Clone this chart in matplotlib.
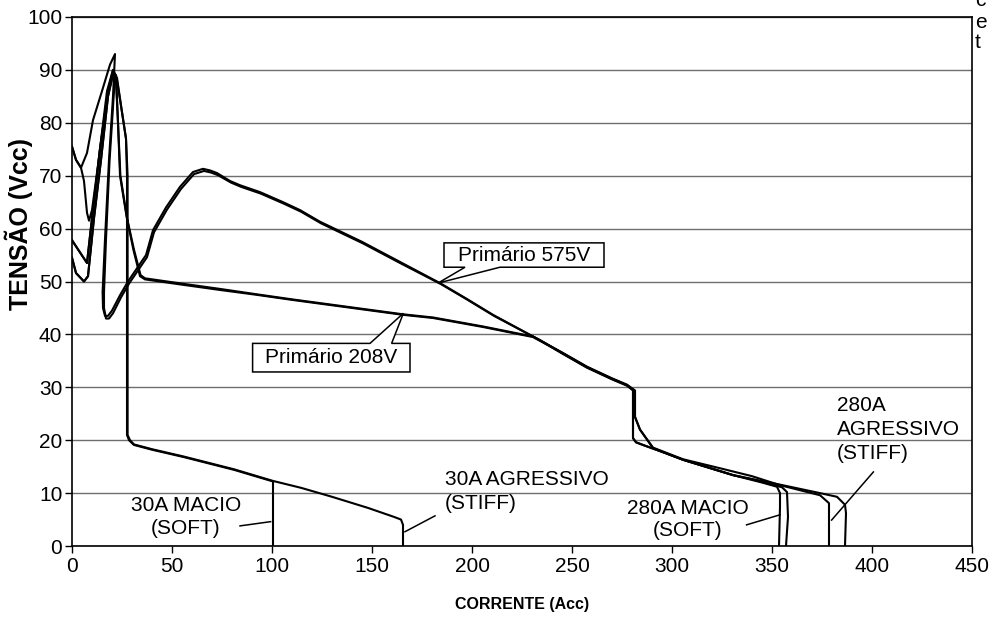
import matplotlib
matplotlib.use("Agg")
import matplotlib.pyplot as plt
from matplotlib.patches import Polygon

plt.rcParams['font.family'] = ['Liberation Sans', 'DejaVu Sans']

# ---- data (current A, voltage V) ----
soft30_x = [0, 2, 6, 8, 11, 14.5, 18, 20.5, 22.5, 25, 27, 27.5, 27.5, 28.5, 31, 40, 56, 81, 100.5, 100.5]
soft30_y = [54.5, 51.6, 50, 51, 62, 73, 85, 89.5, 88, 82, 77, 70, 21, 20, 19.1, 18.2, 16.8, 14.4, 12.2, 0]

stiff30_x = [0, 4, 7.5, 9.5, 14, 18, 20.5, 22.5, 25, 27, 27.8, 27.8, 29, 31, 40, 56, 81, 100.5,
             114.5, 130, 148, 161, 164.5, 165.5, 165.5]
stiff30_y = [57.8, 55.5, 53.5, 60.3, 75, 86, 90, 88.5, 82, 77, 70, 21, 20, 19.2, 18.3, 16.9, 14.5, 12.3,
             11, 9.3, 7.2, 5.5, 5, 4, 0]

# 208V primary, 280A soft
p208_soft_x = [0, 4, 7.5, 9.5, 14, 18, 20.5, 22, 23, 24, 27.3, 30.7, 34, 36.5, 55, 74, 92, 110.5, 140,
               165.5, 180.5, 205.5, 230.5, 245, 257.5, 270, 277.5, 281.5, 281.5, 284, 290.5, 305.5,
               330.5, 345, 352.5, 354, 354, 353.5]
p208_soft_y = [57.8, 55.5, 53.5, 60.3, 75, 86, 89.5, 89, 80, 70, 62.3, 56, 51, 50.4, 49.4, 48.4, 47.5,
               46.5, 45, 43.7, 43.1, 41.4, 39.5, 36.5, 33.8, 31.6, 30.4, 29.3, 24.4, 22, 18.5, 16.3,
               13.4, 12, 11.2, 10, 7.4, 0]

# 208V primary, 280A stiff
p208_stiff_x = [0, 2, 6, 8, 11, 14.5, 18, 20.5, 22, 23, 24.2, 27.5, 31, 34.3, 36.5, 55, 74, 92, 110.5,
                140, 165.5, 180.5, 205.5, 230.5, 245, 257.5, 270, 277.5, 281.5, 281.5, 284, 290.5,
                305.5, 324, 340, 354, 374, 378.5, 378.5, 378.5]
p208_stiff_y = [54.5, 51.6, 50, 51, 62, 73, 85, 89, 88, 80, 70, 62, 56, 51.2, 50.6, 49.6, 48.6, 47.6,
                46.6, 45.1, 43.8, 43.2, 41.5, 39.6, 36.6, 33.9, 31.7, 30.5, 29.4, 24.4, 22, 18.6,
                16.4, 14.7, 13.2, 11.5, 9.6, 8.1, 4.9, 0]

# 575V primary, 280A soft
p575_soft_x = [0, 2, 4.5, 7.5, 10.5, 15, 19, 21.5, 20.5, 18.5, 16.5, 15.3, 15.5, 16.5, 18, 20, 24, 28,
               37, 40.5, 47, 54, 60.5, 65.5, 69, 72.5, 79, 84, 94, 105.5, 114, 124, 145, 164, 184,
               197, 210.5, 234, 245, 257.5, 270, 277.5, 280.5, 280.5, 282, 285.5, 295, 305.5, 330.5,
               340, 355, 357.5, 358, 357]
p575_soft_y = [75.5, 73, 71.5, 74.3, 80.5, 86, 91, 93, 85, 73, 58, 48, 45, 43.5, 43.5, 44.5, 47.4, 50,
               55, 59.7, 64, 67.9, 70.7, 71.3, 71, 70.5, 69, 68.2, 66.9, 65, 63.5, 61.3, 57.5, 53.7,
               49.7, 46.8, 43.7, 38.9, 36.5, 33.8, 31.6, 30.4, 29.5, 20.4, 19.6, 19.1, 17.8, 16.3,
               13.4, 12.6, 11.1, 10.2, 5.5, 0]

# 575V primary, 280A stiff
p575_stiff_x = [0, 2, 4.5, 6, 7.5, 8.5, 10, 13, 17.5, 20.5, 21.5, 20, 18.8, 17, 16, 16, 17, 18.5, 20.5,
                24.5, 28.5, 37.5, 41, 47.5, 54.5, 61, 66, 69.5, 73, 79.5, 84.5, 94.5, 106, 114.5,
                124.5, 145.5, 164.5, 184.5, 197.5, 211, 234.5, 245, 257.5, 270, 277.5, 280.5, 280.5,
                282, 285.5, 295, 305.5, 330.5, 354, 374, 382.5, 386.5, 387, 386.5]
p575_stiff_y = [75.5, 73, 71.5, 69, 63, 61.5, 63.5, 72, 86, 90, 89, 80, 73, 58, 48, 45, 43, 43, 44,
                47, 49.6, 54.6, 59.3, 63.6, 67.5, 70.3, 70.9, 70.6, 70.1, 68.7, 67.9, 66.6, 64.7,
                63.2, 61, 57.2, 53.4, 49.5, 46.6, 43.5, 38.8, 36.4, 33.7, 31.5, 30.3, 29.4, 20.4,
                19.6, 19.1, 17.8, 16.3, 13.4, 11.6, 10, 9.3, 7.8, 6.2, 0]

curves = [(soft30_x, soft30_y), (stiff30_x, stiff30_y),
          (p208_soft_x, p208_soft_y), (p208_stiff_x, p208_stiff_y),
          (p575_soft_x, p575_soft_y), (p575_stiff_x, p575_stiff_y)]

x_ticks = [0, 50, 100, 150, 200, 250, 300, 350, 400, 450]
y_ticks = [0, 10, 20, 30, 40, 50, 60, 70, 80, 90, 100]

x_label = "CORRENTE (Acc)"
y_label = "TENSÃO (Vcc)"

FS = 15

# ---- figure ----
fig = plt.figure(figsize=(9.95, 6.2), dpi=100)
ax = fig.add_axes([72/995, 1 - 546/620, 900/995, 529/620])
ax.set_xlim(0, 450)
ax.set_ylim(0, 100)
ax.set_xticks(x_ticks)
ax.set_yticks(y_ticks)
ax.tick_params(axis='both', direction='out', length=5, width=1, colors='black', labelsize=FS)
ax.tick_params(axis='y', pad=2)
ax.tick_params(axis='x', pad=3)
for sp in ax.spines.values():
    sp.set_linewidth(1.2)
    sp.set_color('black')
ax.yaxis.grid(True, color='#6e6e6e', linewidth=1.0)
ax.set_axisbelow(True)

for cx, cy in curves:
    ax.plot(cx, cy, color='black', linewidth=1.5, solid_joinstyle='round', zorder=3)

# callouts with boxes
poly575 = [(186, 57.3), (266, 57.3), (266, 52.7), (214, 52.7), (183, 49.7), (196.5, 52.7), (186, 52.7)]
ax.add_patch(Polygon(poly575, closed=True, facecolor='white', edgecolor='black', linewidth=1.1, zorder=4))
ax.text(226, 55.0, "Primário 575V", ha='center', va='center', fontsize=FS, zorder=5)

poly208 = [(90.3, 32.9), (169, 32.9), (169, 38.3), (159.8, 38.3), (165.7, 44), (149, 38.3), (90.3, 38.3)]
ax.add_patch(Polygon(poly208, closed=True, facecolor='white', edgecolor='black', linewidth=1.1, zorder=4))
ax.text(129.7, 35.6, "Primário 208V", ha='center', va='center', fontsize=FS, zorder=5)

# text labels with leader lines
ax.text(57, 7.75, "30A MACIO", ha='center', va='center', fontsize=FS)
ax.text(57, 3.4, "(SOFT)", ha='center', va='center', fontsize=FS)
ax.plot([84, 99.3], [3.8, 4.6], color='black', linewidth=1.1)

ax.text(186.5, 12.5, "30A AGRESSIVO", ha='left', va='center', fontsize=FS)
ax.text(186.5, 8.1, "(STIFF)", ha='left', va='center', fontsize=FS)
ax.plot([181.5, 166.5], [5.7, 2.7], color='black', linewidth=1.1)

ax.text(307.75, 7.05, "280A MACIO", ha='center', va='center', fontsize=FS)
ax.text(307.75, 3.0, "(SOFT)", ha='center', va='center', fontsize=FS)
ax.plot([337.3, 354], [4.0, 5.9], color='black', linewidth=1.1)

ax.text(382.3, 26.5, "280A", ha='left', va='center', fontsize=FS)
ax.text(382.3, 22.1, "AGRESSIVO", ha='left', va='center', fontsize=FS)
ax.text(382.3, 17.5, "(STIFF)", ha='left', va='center', fontsize=FS)
ax.plot([400.7, 379.8], [14.0, 4.9], color='black', linewidth=1.1)

fig.text(522/995, 1 - 604/620, x_label, ha='center', va='center', fontsize=11.5, fontweight='bold')
fig.text(19/995, 1 - 224/620, y_label, ha='center', va='center', rotation=90, fontsize=18, fontweight='bold')

# cut-off text at top right
fig.text(975/995, 1 - 1/620, "c", ha='left', va='center', fontsize=FS)
fig.text(975/995, 1 - 22/620, "e", ha='left', va='center', fontsize=FS)
fig.text(975/995, 1 - 43/620, "t", ha='left', va='center', fontsize=FS)

fig.savefig("out.png", dpi=100)
